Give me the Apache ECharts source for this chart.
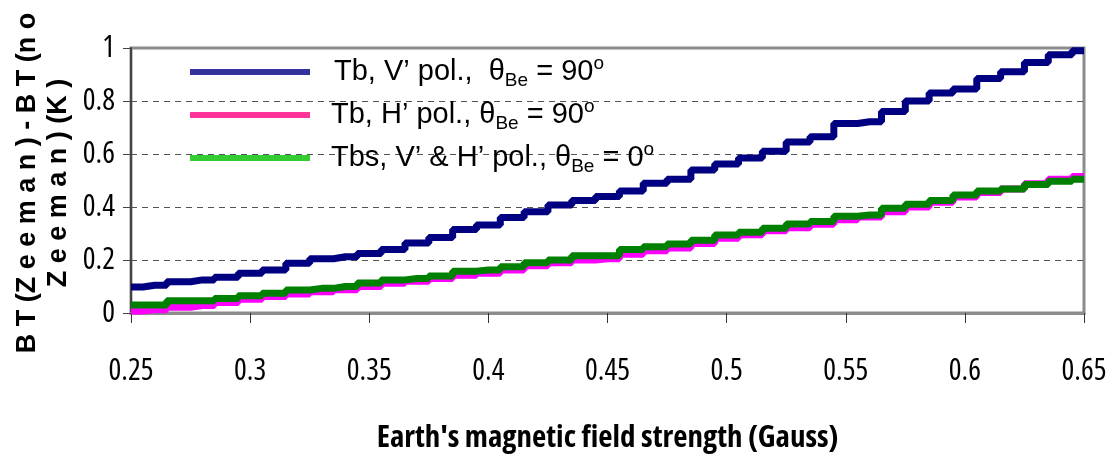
<!DOCTYPE html>
<html>
<head>
<meta charset="utf-8">
<script src="https://cdn.jsdelivr.net/npm/echarts@6/dist/echarts.min.js"></script>
<style>
html,body{margin:0;padding:0;background:#fff;}
#c{width:1110px;height:462px;}
</style>
</head>
<body>
<div id="c"></div>
<script>
// Earth's magnetic field strength (Gauss)
var gauss = [0.25,0.26,0.27,0.28,0.29,0.30,0.31,0.32,0.33,0.34,0.35,0.36,0.37,0.38,0.39,0.40,0.41,0.42,0.43,0.44,0.45,0.46,0.47,0.48,0.49,0.50,0.51,0.52,0.53,0.54,0.55,0.56,0.57,0.58,0.59,0.60,0.61,0.62,0.63,0.64,0.65];
// Tb, V' pol., thetaBe = 90
var tbV90 = [0.098,0.105,0.118,0.125,0.135,0.150,0.162,0.188,0.205,0.212,0.225,0.240,0.264,0.285,0.315,0.332,0.360,0.382,0.408,0.425,0.440,0.460,0.490,0.505,0.540,0.562,0.585,0.610,0.645,0.665,0.715,0.722,0.760,0.800,0.830,0.845,0.885,0.910,0.945,0.975,0.990];
// Tb, H' pol., thetaBe = 90
var tbH90 = [0.008,0.012,0.022,0.028,0.040,0.052,0.062,0.072,0.080,0.088,0.100,0.112,0.120,0.130,0.142,0.150,0.162,0.178,0.190,0.200,0.205,0.222,0.235,0.245,0.262,0.282,0.295,0.310,0.322,0.335,0.352,0.362,0.382,0.400,0.418,0.438,0.455,0.468,0.488,0.505,0.515];
// Tbs, V' & H' pol., thetaBe = 0
var tbs0 = [0.030,0.030,0.046,0.046,0.055,0.065,0.075,0.087,0.093,0.100,0.113,0.125,0.130,0.140,0.158,0.162,0.175,0.190,0.200,0.216,0.216,0.240,0.250,0.260,0.275,0.294,0.305,0.320,0.336,0.345,0.365,0.370,0.395,0.410,0.425,0.445,0.460,0.468,0.485,0.497,0.505];

var seriesNames = ['Tb, V’ pol., θBe = 90o', 'Tb, H’ pol., θBe = 90o', 'Tbs, V’ & H’ pol., θBe = 0o'];
var legendRich = {};
legendRich[seriesNames[0]] = '{g|}{t|Tb, V’ pol.,  θ}{s|Be}{t| = 90}{p|o}';
legendRich[seriesNames[1]] = '{g2|}{t|Tb, H’ pol., θ}{s|Be}{t| = 90}{p|o}';
legendRich[seriesNames[2]] = '{g2|}{t|Tbs, V’ & H’ pol., θ}{s|Be}{t| = 0}{p|o}';

function pairs(ys){ return gauss.map(function(x,i){ return [x, ys[i]]; }); }

var LS = 'Liberation Sans, Arial, sans-serif';
var OS = 'Open Sans, Liberation Sans, sans-serif';
var chart = echarts.init(document.getElementById('c'));
var option = {
  backgroundColor: '#ffffff',
  animation: false,
  grid: { left: 131, right: 26, top: 48, bottom: 149, show: true, borderColor: '#8c8c8c', borderWidth: 3, backgroundColor: 'transparent' },
  legend: {
    orient: 'vertical',
    left: 187, top: 54,
    padding: 0,
    itemWidth: 120, itemHeight: 6,
    itemGap: 7,
    selectedMode: false,
    itemStyle: { opacity: 0 },
    data: [
      { name: seriesNames[0], lineStyle: { color: '#333399', width: 6 }, itemStyle: { opacity: 0 } },
      { name: seriesNames[1], lineStyle: { color: '#FF3399', width: 6 }, itemStyle: { opacity: 0 } },
      { name: seriesNames[2], lineStyle: { color: '#33CC33', width: 6 }, itemStyle: { opacity: 0 } }
    ],
    formatter: function(n){ return legendRich[n]; },
    textStyle: {
      color: '#000',
      fontFamily: LS,
      fontSize: 29,
      lineHeight: 36,
      rich: {
        g: { width: 19, lineHeight: 36 },
        g2: { width: 16, lineHeight: 36 },
        t: { fontSize: 29, lineHeight: 36, fontFamily: LS, color: '#000' },
        s: { fontSize: 19, lineHeight: 19, verticalAlign: 'bottom', fontFamily: LS, color: '#000' },
        p: { fontSize: 19, lineHeight: 19, verticalAlign: 'top', fontFamily: LS, color: '#000' }
      }
    }
  },
  xAxis: {
    type: 'value', min: 0.25, max: 0.65, interval: 0.05,
    name: "Earth's magnetic field strength (Gauss)",
    nameLocation: 'middle', nameGap: 110,
    nameTextStyle: { fontFamily: OS, fontStyle: 'condensed', fontWeight: 'bold', fontSize: 31, color: '#000' },
    axisLine: { show: true, onZero: false, lineStyle: { color: '#8c8c8c', width: 3 } },
    axisTick: { show: true, length: 10, lineStyle: { color: '#333', width: 1 } },
    axisLabel: { margin: 43, fontFamily: OS, fontStyle: 'condensed', fontSize: 30, color: '#000' },
    splitLine: { show: false }
  },
  yAxis: {
    type: 'value', min: 0, max: 1, interval: 0.2,
    axisLine: { show: true, lineStyle: { color: '#444', width: 2 } },
    axisTick: { show: true, length: 8, lineStyle: { color: '#444', width: 1 } },
    axisLabel: { margin: 16, fontStyle: 'condensed', fontFamily: OS, fontSize: 30, color: '#000' },
    splitLine: { show: true, lineStyle: { type: [6, 5], width: 1, color: ['rgba(0,0,0,0)', '#555', '#555', '#555', '#555', 'rgba(0,0,0,0)'] } }
  },
  graphic: [{
    type: 'text',
    x: 43, y: 183,
    rotation: Math.PI / 2,
    style: {
      text: 'B T (Z e e m a n ) - B T (n o\nZ e e m a n ) (K )',
      fontFamily: LS,
      fontWeight: 'bold',
      fontSize: 27,
      lineHeight: 31,
      fill: '#000',
      align: 'center',
      verticalAlign: 'middle'
    }
  }],
  series: [
    { name: seriesNames[1], type: 'line', step: 'middle', symbol: 'none', data: pairs(tbH90), lineStyle: { color: '#FF00FF', width: 7 }, itemStyle: { color: '#FF00FF' } },
    { name: seriesNames[2], type: 'line', step: 'middle', symbol: 'none', data: pairs(tbs0), lineStyle: { color: '#008000', width: 7 }, itemStyle: { color: '#008000' } },
    { name: seriesNames[0], type: 'line', step: 'middle', symbol: 'none', data: pairs(tbV90), lineStyle: { color: '#000080', width: 7 }, itemStyle: { color: '#000080' } }
  ]
};
chart.setOption(option);
</script>
</body>
</html>
